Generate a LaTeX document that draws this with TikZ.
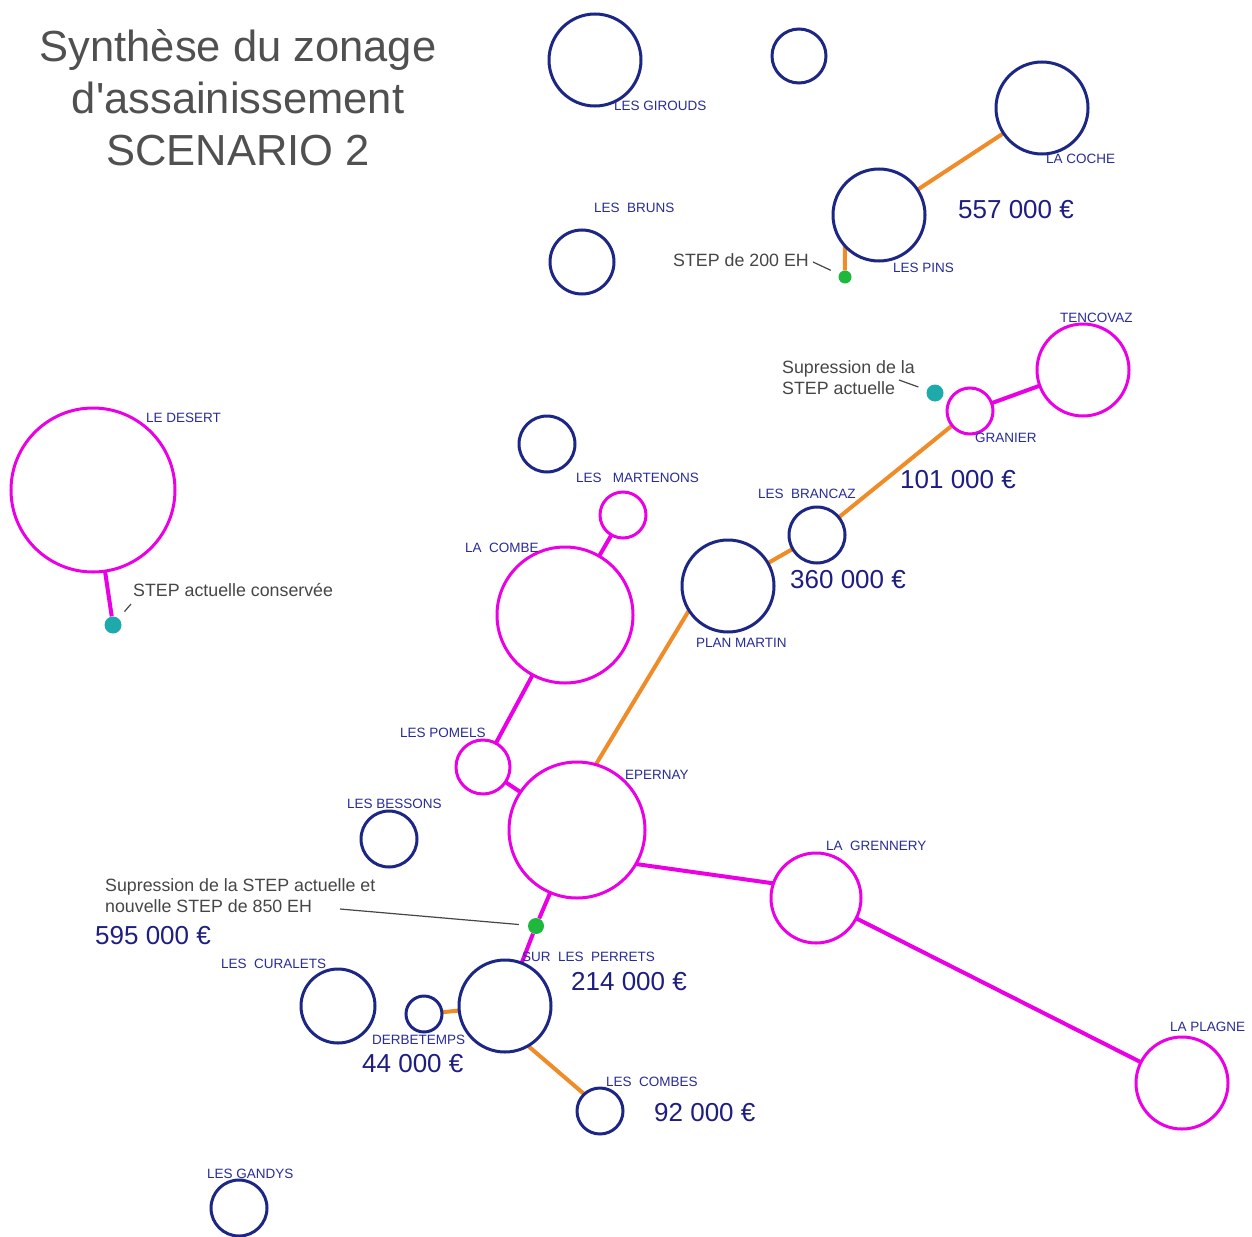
\documentclass[tikz,border=0pt]{standalone}
\usepackage{fontspec}
\setmainfont{Liberation Sans}
\begin{document}
\pgfdeclarelayer{paper}
\pgfdeclarelayer{background}
\pgfsetlayers{paper,background,main}
\definecolor{navy}{RGB}{28,38,132}
\definecolor{mag}{RGB}{235,0,230}
\definecolor{pipeor}{RGB}{240,140,40}
\definecolor{lblue}{RGB}{40,44,150}
\definecolor{costblue}{RGB}{30,30,130}
\definecolor{notegray}{RGB}{70,70,70}
\definecolor{titlegray}{RGB}{80,80,80}
\definecolor{stepg}{RGB}{30,185,60}
\definecolor{stepc}{RGB}{30,170,170}
\newcommand\placefont{\fontsize{13.5}{15}\selectfont}
\newcommand\costfont{\fontsize{26}{29}\selectfont}
\newcommand\notefont{\fontsize{17.8}{21.5}\selectfont}
\newcommand\titlefont{\fontsize{43.5}{52}\selectfont}
\begin{tikzpicture}[x=1pt,y=-1pt,
  navyc/.style={circle, draw=navy, line width=3pt, inner sep=0pt, outer sep=0pt, minimum size=#1},
  magc/.style={circle, draw=mag, line width=3pt, inner sep=0pt, outer sep=0pt, minimum size=#1},
  place/.style={anchor=west, font=\placefont, text=lblue, inner sep=0pt},
  cost/.style={anchor=west, font=\costfont, text=costblue, inner sep=0pt},
  note/.style={font=\notefont, text=notegray, inner sep=0pt, align=left},
  orpipe/.style={draw=pipeor, line width=4pt},
  magpipe/.style={draw=mag, line width=4pt},
  leader/.style={draw=notegray, line width=1.2pt},
  greenstep/.style={circle, fill=stepg, inner sep=0pt, minimum size=13pt},
  cyanstep/.style={circle, fill=stepc, inner sep=0pt, minimum size=17pt}]
\useasboundingbox (0,0) rectangle (1252,1236);
\begin{pgfonlayer}{paper}
\fill[white] (0,0) rectangle (1252,1236);
\end{pgfonlayer}

% title
\node[anchor=north, font=\titlefont, text=titlegray, align=center, inner sep=0pt] (title) at (238,29)
  {Synthèse du zonage\\d\textquotesingle assainissement\\SCENARIO 2};

% hamlets connected to the network (navy) or kept as they are (magenta)
\node[navyc=92pt] (girouds) at (595,60) {};
\node[navyc=54pt] (topsmall) at (799,56) {};
\node[navyc=92pt] (coche) at (1042,108) {};
\node[navyc=92pt] (pins) at (879,215) {};
\node[navyc=64pt] (bruns) at (582,262) {};
\node[magc=92pt] (tencovaz) at (1083,370) {};
\node[magc=46pt] (granier) at (970,411) {};
\node[magc=164pt] (desert) at (93,490) {};
\node[navyc=56pt] (midsmall) at (547,444) {};
\node[magc=46pt] (martenons) at (623,515) {};
\node[magc=136pt] (lacombe) at (565,615) {};
\node[navyc=92pt] (planmartin) at (728,586) {};
\node[navyc=56pt] (brancaz) at (817,535) {};
\node[magc=54pt] (pomels) at (483,767) {};
\node[magc=136pt] (epernay) at (577,830) {};
\node[navyc=56pt] (bessons) at (389,839) {};
\node[magc=90pt] (grennery) at (816,898) {};
\node[magc=92pt] (plagne) at (1182,1083) {};
\node[navyc=92pt] (perrets) at (505,1006) {};
\node[navyc=74pt] (curalets) at (338,1006) {};
\node[navyc=36pt] (derbetemps) at (424,1014) {};
\node[navyc=46pt] (combes) at (600,1111) {};
\node[navyc=56pt] (gandys) at (239,1208) {};

% treatment plants
\node[greenstep] (step200) at (845,277) {};
\node[cyanstep] (stepgranier) at (935,393) {};
\node[cyanstep] (stepdesert) at (113,625) {};
\node[greenstep, minimum size=16pt] (step850) at (536,926) {};

% pipes
\begin{pgfonlayer}{background}
\draw[orpipe] (pins) -- (coche);
\draw[orpipe] (pins.222) -- (step200);
\draw[orpipe] (planmartin) -- (brancaz);
\draw[orpipe] (brancaz) -- (granier);
\draw[orpipe] (epernay.74) -- (planmartin.212);
\draw[orpipe] (derbetemps) -- (perrets);
\draw[orpipe] (perrets.-60) -- (combes.133);
\draw[magpipe] (granier) -- (tencovaz);
\draw[magpipe] (desert) -- (stepdesert);
\draw[magpipe] (martenons) -- (lacombe);
\draw[magpipe] (lacombe) -- (pomels);
\draw[magpipe] (pomels) -- (epernay);
\draw[magpipe] (epernay.-30) -- (grennery.161);
\draw[magpipe] (grennery) -- (plagne);
\draw[magpipe] (epernay) -- (step850);
\draw[magpipe] (step850) -- (perrets);
\end{pgfonlayer}

% hamlet names
\node[place] (lgirouds) at (614,106) {LES GIROUDS};
\node[place] (lcoche) at (1046,159) {LA COCHE};
\node[place] (lbruns) at (594,208) {LES\ \ BRUNS};
\node[place] (lpins) at (893,268) {LES PINS};
\node[place] (ltencovaz) at (1060,318) {TENCOVAZ};
\node[place] (lgranier) at (975,438) {GRANIER};
\node[place] (lbrancaz) at (758,494) {LES\ \ BRANCAZ};
\node[place] (lmartenons) at (576,478) {LES\ \ \ MARTENONS};
\node[place] (llacombe) at (465,548) {LA\ \ COMBE};
\node[place] (lplanmartin) at (696,643) {PLAN MARTIN};
\node[place] (ldesert) at (146,418) {LE DESERT};
\node[place] (lpomels) at (400,733) {LES POMELS};
\node[place] (lepernay) at (625,775) {EPERNAY};
\node[place] (lbessons) at (347,804) {LES BESSONS};
\node[place] (lgrennery) at (826,846) {LA\ \ GRENNERY};
\node[place] (lplagne) at (1170,1027) {LA PLAGNE};
\node[place] (lperrets) at (522,957) {SUR\ \ LES\ \ PERRETS};
\node[place] (lcuralets) at (221,964) {LES\ \ CURALETS};
\node[place] (lderbetemps) at (372,1040) {DERBETEMPS};
\node[place] (lcombes) at (606,1082) {LES\ \ COMBES};
\node[place] (lgandys) at (207,1174) {LES GANDYS};

% costs
\node[cost] (c557) at (958,210) {557 000 €};
\node[cost] (c101) at (900,480) {101 000 €};
\node[cost] (c360) at (790,580) {360 000 €};
\node[cost] (c595) at (95,936) {595 000 €};
\node[cost] (c214) at (571,982) {214 000 €};
\node[cost] (c44) at (362,1064) {44 000 €};
\node[cost] (c92) at (654,1113) {92 000 €};

% notes on the treatment plants
\node[note, anchor=west] (n200) at (673,260) {STEP de 200 EH};
\node[note, anchor=north west] (nsup) at (782,360) {Supression de la\\STEP actuelle};
\node[note, anchor=west] (ncons) at (133,590) {STEP actuelle conservée};
\node[note, anchor=north west] (n850) at (105,878) {Supression de la STEP actuelle et\\nouvelle STEP de 850 EH};

\coordinate (l200) at (813,262);
\coordinate (lsup) at (899,380);
\coordinate (lcons) at (131,604);
\coordinate (l850) at (340,909);
\draw[leader, shorten >=9pt] (l200) -- (step200);
\draw[leader, shorten >=9pt] (lsup) -- (stepgranier);
\draw[leader, shorten >=9pt] (lcons) -- (stepdesert);
\draw[leader, shorten >=9pt] (l850) -- (step850);
\end{tikzpicture}
\end{document}
